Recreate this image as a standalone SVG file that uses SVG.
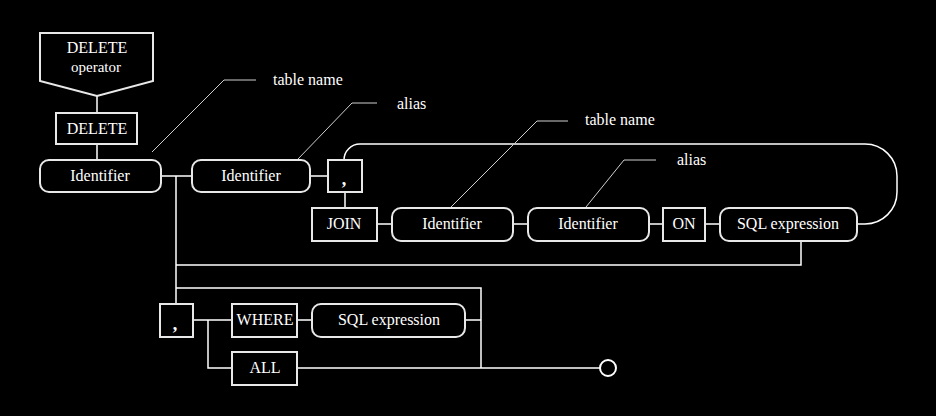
<svg xmlns="http://www.w3.org/2000/svg" width="936" height="416" viewBox="0 0 936 416">
<style>
.bx{fill:#000;stroke:#e8e8e8;stroke-width:2}
.t{font-family:"Liberation Serif","Times New Roman",serif;font-size:16px;fill:#fff;text-anchor:middle}
.c{fill:none;stroke:#fff;stroke-width:1.5}
.a{fill:none;stroke:#cfcfcf;stroke-width:1}
.l{font-family:"Liberation Serif","Times New Roman",serif;font-size:16px;fill:#fff}
.cm{font-family:"Liberation Serif","Times New Roman",serif;font-size:18px;font-weight:bold;fill:#fff;text-anchor:middle}
</style>
<rect width="936" height="416" fill="#000"/>
<g id="connectors">
<path class="c" d="M97 96V113M97 144V160"/>
<path class="c" d="M161 176H192M310 176H328"/>
<path class="c" d="M345 192V208M377 224H392M513 224H528M649 224H663M705 224H720"/>
<path class="c" d="M857 224H865A32 32 0 0 0 897 192V176A32 32 0 0 0 865 144H360A16 16 0 0 0 344 160"/>
<path class="c" d="M176 176V304M176 265H801V241"/>
<path class="c" d="M176 288H481V368"/>
<path class="c" d="M193 320H232M297 320H312M465 320H481M208 320V368H232M297 368H600"/>
<circle cx="608" cy="368" r="8" fill="#000" stroke="#fff" stroke-width="2"/>
</g>
<g id="annotations">
<path class="a" d="M152 152L224 80H256"/>
<text class="l" x="273" y="85">table name</text>
<path class="a" d="M298 159L352 103H377"/>
<text class="l" x="397" y="109">alias</text>
<path class="a" d="M450 208L537 121H568"/>
<text class="l" x="585" y="125">table name</text>
<path class="a" d="M586 207L624 160H656"/>
<text class="l" x="677" y="165">alias</text>
</g>
<g id="op">
<polygon class="bx" points="40,33 153,33 153,81 97,96 40,81"/>
<text class="t" x="97" y="53">DELETE</text>
<text class="t" x="96" y="72" style="font-size:15px">operator</text>
</g>
<g id="delete"><rect class="bx" x="56" y="113" width="81" height="31"/><text class="t" x="97" y="134">DELETE</text></g>
<g id="id1"><rect class="bx" x="40" y="160" width="121" height="32" rx="9"/><text class="t" x="100" y="181">Identifier</text></g>
<g id="id2"><rect class="bx" x="192" y="160" width="118" height="32" rx="9"/><text class="t" x="251" y="181">Identifier</text></g>
<g id="comma1"><rect class="bx" x="328" y="160" width="34" height="32"/><text class="cm" x="344" y="185">,</text></g>
<g id="join"><rect class="bx" x="312" y="208" width="65" height="33"/><text class="t" x="344" y="229">JOIN</text></g>
<g id="id3"><rect class="bx" x="392" y="208" width="121" height="33" rx="9"/><text class="t" x="452" y="229">Identifier</text></g>
<g id="id4"><rect class="bx" x="528" y="208" width="121" height="33" rx="9"/><text class="t" x="588" y="229">Identifier</text></g>
<g id="on"><rect class="bx" x="663" y="208" width="42" height="33"/><text class="t" x="684" y="229">ON</text></g>
<g id="sql1"><rect class="bx" x="720" y="208" width="137" height="33" rx="9"/><text class="t" x="788" y="229">SQL expression</text></g>
<g id="comma2"><rect class="bx" x="160" y="304" width="33" height="33"/><text class="cm" x="175" y="330">,</text></g>
<g id="where"><rect class="bx" x="232" y="304" width="65" height="33"/><text class="t" x="265" y="325">WHERE</text></g>
<g id="sql2"><rect class="bx" x="312" y="304" width="153" height="33" rx="9"/><text class="t" x="389" y="325">SQL expression</text></g>
<g id="all"><rect class="bx" x="232" y="352" width="65" height="33"/><text class="t" x="265" y="373">ALL</text></g>
</svg>
